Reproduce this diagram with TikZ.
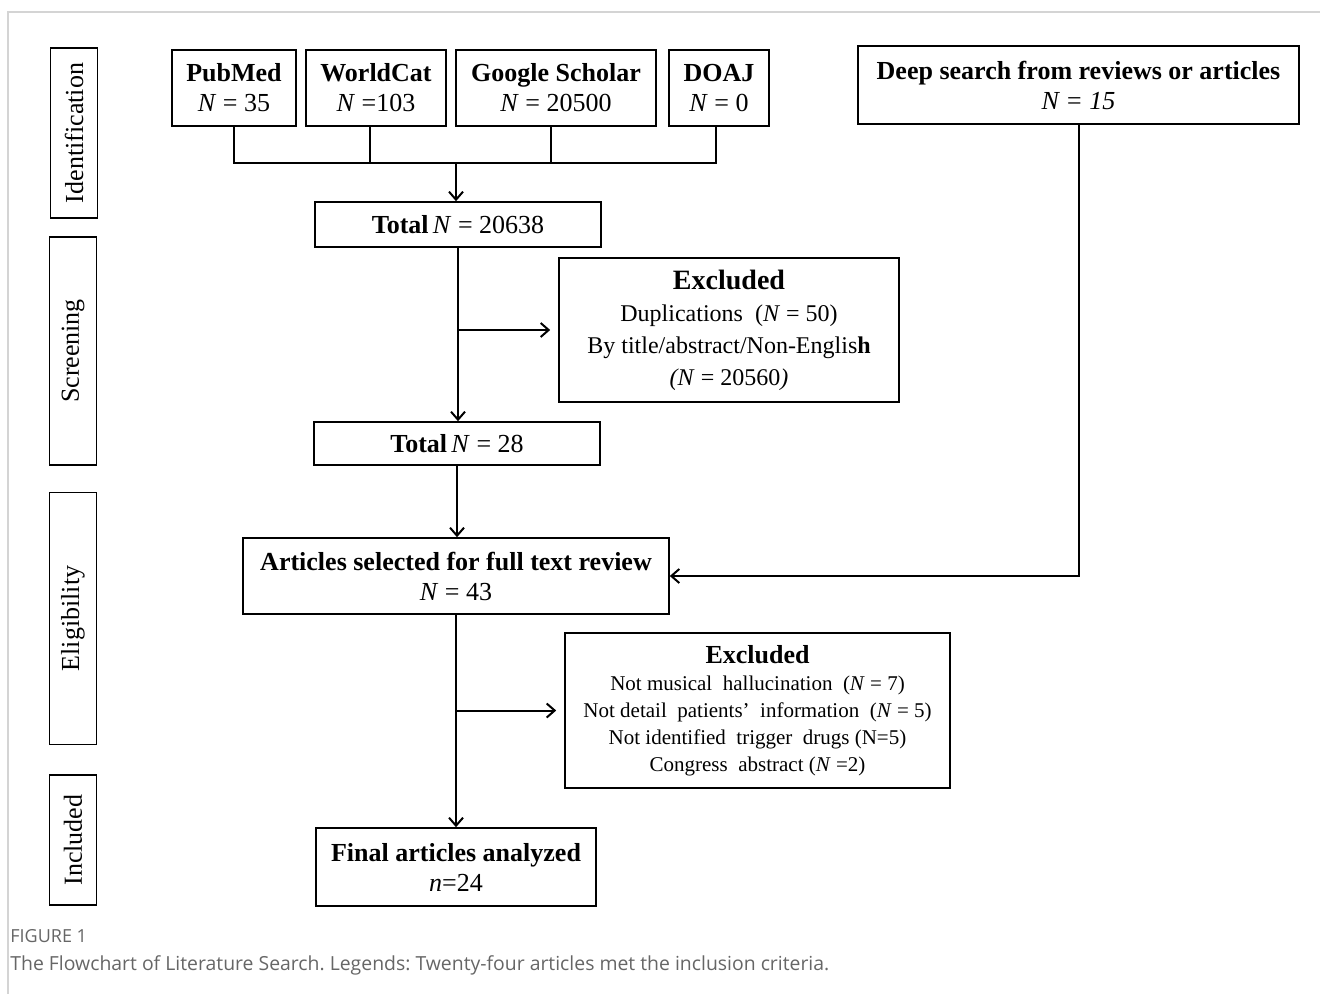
\documentclass[tikz,border=0pt]{standalone}
\usepackage{fontspec}
\setmainfont{Liberation Serif}
\newfontfamily\capfont{Open Sans}
\usetikzlibrary{arrows.meta,positioning}
\definecolor{frameGrey}{HTML}{D4D4D4}
\definecolor{capGrey}{HTML}{666666}
\newcommand{\nN}{\textit{N}}
\frenchspacing

\begin{document}
\begin{tikzpicture}[x=0.5pt,y=-0.5pt,
  box/.style={draw,line width=0.8pt,align=center,inner sep=2pt,
              font=\fontsize{13}{15}\selectfont},
  stage/.style={draw,line width=0.8pt,rotate=90,inner sep=0pt,
                minimum height=23.5pt,font=\fontsize{13}{15}\selectfont},
  arr/.style={line width=1pt,-{Straight Barb[length=4pt,width=7pt]}},
  link/.style={line width=1pt}]
  \useasboundingbox (0,0) rectangle (1320,994);
  \draw[frameGrey,line width=1pt] (8,994) -- (8,12) -- (1320,12);

  % stages
  \node[stage,minimum width=85pt]  (idlab)  at (74,133)   {Identification};
  \node[stage,minimum width=114pt] (scrlab) at (73,351)   {Screening};
  \node[stage,minimum width=126pt] (elilab) at (73,618.5) {Eligibility};
  \node[stage,minimum width=65pt]  (inclab) at (73,840)   {Included};

  % sources
  \node[box,minimum width=62pt,minimum height=38pt]  (pubmed)   at (234,88) {\textbf{PubMed}\\\nN\ = 35};
  \node[box,minimum width=70pt,minimum height=38pt]  (worldcat) at (376,88) {\textbf{WorldCat}\\\nN\ =103};
  \node[box,minimum width=100pt,minimum height=38pt] (google)   at (556,88) {\textbf{Google Scholar}\\\nN\ = 20500};
  \node[box,minimum width=50pt,minimum height=38pt]  (doaj)     at (719,88) {\textbf{DOAJ}\\\nN\ = 0};
  \node[box,minimum width=220.5pt,minimum height=39pt] (deep)   at (1078.5,85) {\textbf{Deep search from reviews or articles}\\\textit{N = 15}};

  % flow
  \node[box,minimum width=143pt,minimum height=22.5pt] (total1) at (458,224.5) {\textbf{Total}\,\nN\ = 20638};
  \node[box,minimum width=170pt,minimum height=72pt,font=\fontsize{12}{16}\selectfont] (excl1) at (729,330)
    {{\fontsize{14}{16}\selectfont\textbf{Excluded}}\\Duplications\ \ (\nN\ = 50)\\By title/abstract/Non-Englis\textbf{h}\\\textit{(N} = 20560\textit{)}};
  \node[box,minimum width=143pt,minimum height=21.5pt] (total2) at (457,443.5) {\textbf{Total}\,\nN\ = 28};
  \node[box,minimum width=213pt,minimum height=38pt] (full) at (456,576) {\textbf{Articles selected for full text review}\\\nN\ = 43};
  \node[box,minimum width=192.5pt,minimum height=77.5pt,font=\fontsize{10.5}{13.5}\selectfont] (excl2) at (757.5,710.5)
    {{\fontsize{13}{14}\selectfont\textbf{Excluded}}\\Not musical\ \ hallucination\ \ (\nN\ = 7)\\Not detail\ \ patients’\ \ information\ \ (\nN\ = 5)\\Not identified\ \ trigger\ \ drugs\ (N=5)\\Congress\ \ abstract (\nN\ =2)};
  \node[box,minimum width=140pt,minimum height=39pt] (final) at (456,867) {\textbf{Final articles analyzed}\\\textit{n}=24};

  % connectors
  \coordinate (join) at (456,163);
  \draw[link] (pubmed.south) |- (join) -| ([xshift=-1.5pt]doaj.south);
  \draw[link] ([xshift=-3pt]worldcat.south) -- ([xshift=-3pt]worldcat.south |- join);
  \draw[link] ([xshift=-2.5pt]google.south) -- ([xshift=-2.5pt]google.south |- join);
  \draw[arr] (join) -- (join |- total1.north);
  \draw[arr] (total1.south) -- (total1.south |- total2.north);
  \draw[arr,shorten >=4pt] (total1.south |- excl1.west) -- (excl1.west);
  \draw[arr] (total2.south) -- (total2.south |- full.north);
  \draw[arr] (deep.south) |- (full.east);
  \draw[arr] (full.south) -- (full.south |- final.north);
  \draw[arr,shorten >=4pt] (full.south |- excl2.west) -- (excl2.west);

  % caption
  \node[anchor=base west,inner sep=0pt,text=capGrey,font=\capfont\fontsize{9}{10}\selectfont] (figlab) at (10,942) {FIGURE 1};
  \node[anchor=base west,inner sep=0pt,text=capGrey,font=\capfont\fontsize{9.7}{11}\selectfont] (figcap) at (10,970)
    {The Flowchart of Literature Search. Legends: Twenty-four articles met the inclusion criteria.};
\end{tikzpicture}
\end{document}
